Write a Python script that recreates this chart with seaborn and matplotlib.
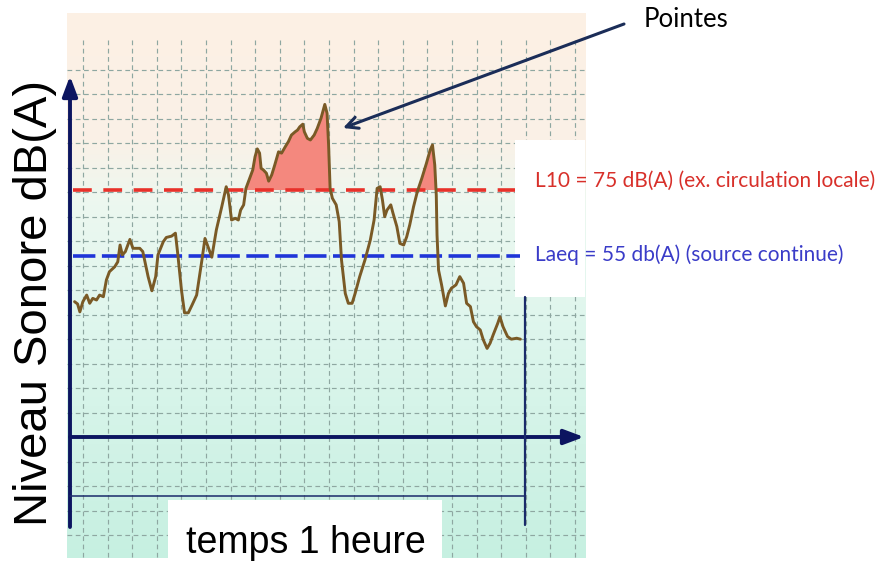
import numpy as np
import matplotlib
matplotlib.use("Agg")
import matplotlib.pyplot as plt
import seaborn as sns
from matplotlib.patches import Rectangle

# ---------------- data ----------------
minutes = [0.6, 1.0, 1.3, 1.7, 2.2, 2.6, 3.0, 3.5, 3.9, 4.4, 4.8, 5.2, 5.9, 6.3, 6.6,
           6.9, 7.3, 7.9, 8.3, 9.2, 9.6, 10.3, 10.8, 11.3, 11.6, 12.3, 12.7, 13.4, 13.9,
           14.2, 14.7, 15.1, 15.6, 16.1, 16.7, 17.1, 17.4, 17.8, 18.2, 18.7, 19.3, 20.0,
           20.6, 20.9, 21.3, 21.8, 22.2, 22.5, 22.9, 23.2, 23.6, 24.1, 24.4, 24.7, 25.0,
           25.2, 25.5, 25.9, 26.2, 26.6, 27.0, 27.5, 27.9, 28.4, 28.8, 29.2, 29.7, 30.0,
           30.3, 30.7, 30.9, 31.3, 31.7, 32.2, 32.6, 33.1, 33.4, 33.6, 33.9, 34.1, 34.3,
           34.6, 35.1, 35.5, 35.8, 36.3, 36.7, 37.2, 37.6, 38.2, 38.9, 39.6, 40.1, 40.5,
           40.9, 41.2, 41.5, 41.8, 42.3, 42.6, 43.1, 43.5, 44.0, 44.4, 44.8, 45.3, 45.8,
           46.4, 47.0, 47.5, 47.8, 48.1, 48.3, 48.4, 48.6, 49.0, 49.5, 49.9, 50.3, 50.9,
           51.4, 51.9, 52.3, 52.8, 53.2, 53.6, 54.1, 54.5, 55.0, 55.4, 55.8, 56.4, 56.7,
           57.1, 57.7, 58.2, 58.9, 59.4]
level_db = [41.1, 40.4, 38.0, 41.1, 43.1, 40.6, 42.1, 41.6, 43.1, 42.6, 47.7, 50.2, 51.7,
            53.2, 58.3, 55.3, 56.3, 60.0, 57.3, 57.3, 56.3, 48.7, 44.4, 48.7, 55.3, 59.3,
            60.6, 61.0, 61.9, 55.8, 44.6, 37.7, 37.7, 40.1, 43.1, 49.2, 53.8, 60.3, 57.8,
            54.6, 62.9, 69.8, 76.0, 73.5, 65.9, 66.4, 65.9, 68.9, 70.5, 75.5, 78.0, 81.1,
            85.1, 87.5, 86.2, 81.6, 81.1, 80.1, 77.7, 79.6, 82.6, 86.6, 86.2, 88.2, 89.7,
            91.7, 92.7, 93.2, 94.2, 95.0, 92.7, 90.7, 90.2, 91.7, 93.7, 96.8, 99.3, 101.0,
            98.3, 88.7, 75.5, 72.5, 70.5, 65.4, 53.8, 43.6, 40.6, 40.6, 43.6, 48.7, 53.8,
            59.8, 65.9, 75.5, 76.0, 72.0, 66.9, 68.9, 70.5, 67.9, 63.9, 58.8, 58.3, 60.8,
            64.4, 69.9, 74.5, 78.6, 83.1, 87.2, 88.7, 82.6, 73.5, 61.3, 50.7, 46.2, 39.8,
            43.6, 45.2, 46.2, 48.7, 46.7, 40.6, 39.6, 35.0, 33.5, 32.5, 29.5, 26.9, 28.5,
            31.0, 34.5, 36.5, 33.5, 30.5, 29.7, 30.0, 29.7]
l10_db = 75
laeq_db = 55
duration_min = 60
l10_label = "L10 = 75 dB(A) (ex. circulation locale)"
laeq_label = "Laeq = 55 db(A) (source continue)"
peak_label = "Pointes"
y_label = "Niveau Sonore dB(A)"
x_label = "temps 1 heure"

# ---------------- style / layout ----------------
sns.set_style("white")
plt.rcParams['font.family'] = ['Lato', 'DejaVu Sans']

W, H = 880, 562
fig = plt.figure(figsize=(W / 100, H / 100), dpi=100)
fig.patch.set_facecolor("white")

X0_PX, PX_PER_MIN = 70, 455 / 60      # time origin (px) and scale
Y0_PX, PX_PER_DB = 437, 3.293         # 0 dB (px) and scale
BG_L, BG_T, BG_R, BG_B = 67, 13, 585, 558


def to_min(px):
    return (px - X0_PX) / PX_PER_MIN


def to_db(py):
    return (Y0_PX - py) / PX_PER_DB


ax = fig.add_axes([BG_L / W, 1 - BG_B / H, (BG_R - BG_L) / W, (BG_B - BG_T) / H])
xlim = (to_min(BG_L), to_min(BG_R))
ylim = (to_db(BG_B), to_db(BG_T))

# background gradient (peach -> mint)
stops_py = [BG_T, 140, 205, 330, BG_B]
stops_rgb = np.array([[253, 240, 228], [250, 241, 231], [236, 248, 240],
                      [222, 246, 237], [198, 240, 225]]) / 255
rows = np.arange(BG_T, BG_B)
grad = np.stack([np.interp(rows, stops_py, stops_rgb[:, i]) for i in range(3)], axis=-1)[:, None, :]
ax.imshow(grad, extent=[xlim[0], xlim[1], ylim[0], ylim[1]], aspect='auto',
          origin='upper', zorder=0, interpolation='bilinear')

# dashed grid
grid_kw = dict(color='#8ea7a1', lw=0.85, ls=(0, (4, 3)), zorder=1)
for k in range(21):
    xm = to_min(83 + 24.6 * k)
    ax.plot([xm, xm], [to_db(40), to_db(BG_B)], **grid_kw)
for k in range(-4, 16):
    if k == 0:
        continue
    yd = to_db(Y0_PX - 24.5 * k)
    ax.plot([xlim[0], xlim[1]], [yd, yd], **grid_kw)

# white cut-outs
ax.add_patch(Rectangle((to_min(515), to_db(297)), to_min(BG_R + 2) - to_min(515),
                       to_db(140) - to_db(297), color='white', zorder=2, lw=0))
ax.add_patch(Rectangle((to_min(168), to_db(H + 2)), to_min(442) - to_min(168),
                       to_db(500) - to_db(H + 2), color='white', zorder=2, lw=0,
                       clip_on=False))

# data
x = np.array(minutes)
y = np.array(level_db)
ax.fill_between(x, y, l10_db, where=y > l10_db, interpolate=True,
                color='#f4887e', lw=0, zorder=3)
ax.plot([to_min(73), to_min(515)], [l10_db, l10_db], color='#e8312a', lw=2.6,
        dashes=(5.2, 3.2), zorder=4, solid_capstyle='butt')
ax.plot([to_min(73), to_min(520)], [laeq_db, laeq_db], color='#1f35d8', lw=2.6,
        dashes=(6.2, 1.8), zorder=4)
sns.lineplot(x=minutes, y=level_db, ax=ax, color='#7a5a26', lw=2.1, zorder=5)

# axes arrows
navy = '#0c1560'
head = '-|>,head_length=1.2,head_width=0.45'
ax.annotate('', xy=(0, to_db(76)), xytext=(0, to_db(527)),
            arrowprops=dict(arrowstyle=head, color=navy, lw=2.8, mutation_scale=10,
                            shrinkA=0, shrinkB=0), annotation_clip=False, zorder=6)
ax.annotate('', xy=(to_min(584), 0), xytext=(0, 0),
            arrowprops=dict(arrowstyle=head, color=navy, lw=2.8, mutation_scale=10,
                            shrinkA=0, shrinkB=0), annotation_clip=False, zorder=6)
ax.plot([duration_min, duration_min], [to_db(297), to_db(525)], color='#1a2a6a', lw=1.6, zorder=6)
ax.plot([0, duration_min], [to_db(496), to_db(496)], color='#1a2a6a', lw=1.1, zorder=6)

# "Pointes" pointer
ax.annotate('', xy=(to_min(343), to_db(128)), xytext=(to_min(624), to_db(24)),
            arrowprops=dict(arrowstyle='->,head_length=0.7,head_width=0.35', color='#1b2d58',
                            lw=2.2, mutation_scale=12, shrinkA=0, shrinkB=0),
            annotation_clip=False, zorder=7)

ax.set_xlim(*xlim)
ax.set_ylim(*ylim)
ax.axis('off')

# texts
fig.text(535 / W, 1 - 187 / H, l10_label, color='#d8302a', fontsize=15, va='baseline')
fig.text(535 / W, 1 - 261 / H, laeq_label, color='#3a3cc8', fontsize=15, va='baseline')
fig.text(644 / W, 1 - 27 / H, peak_label, color='black', fontsize=18.5, va='baseline')
fig.text(35 / W, 1 - 303 / H, y_label, rotation=90, ha='center', va='center',
         fontsize=34, family=['Liberation Sans', 'DejaVu Sans'], color='black')
fig.text(306 / W, 1 - 553 / H, x_label, ha='center', va='baseline', fontsize=27,
         family=['Liberation Sans', 'DejaVu Sans'], color='black')

fig.savefig("out.png", dpi=100)
